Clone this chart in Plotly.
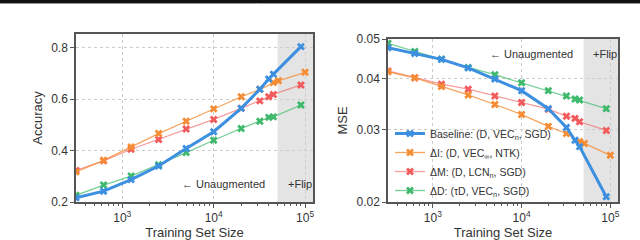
import plotly.graph_objects as go
import numpy as np

# ---- data ----
x_std = [312, 625, 1250, 2500, 5000, 10000, 20000, 32000, 40000, 45000, 90000]
x_ntk = [312, 625, 1250, 2500, 5000, 10000, 20000, 32000, 45000, 51000, 100000]

acc_baseline = [0.216, 0.242, 0.287, 0.340, 0.408, 0.473, 0.564, 0.638, 0.678, 0.697, 0.804]
acc_di = [0.317, 0.362, 0.414, 0.466, 0.514, 0.562, 0.609, 0.638, 0.664, 0.671, 0.704]
acc_dm = [0.323, 0.360, 0.405, 0.443, 0.484, 0.521, 0.564, 0.593, 0.609, 0.618, 0.655]
acc_dd = [0.226, 0.266, 0.301, 0.345, 0.392, 0.440, 0.486, 0.514, 0.529, 0.531, 0.577]

mse_baseline = [0.0476, 0.0461, 0.0446, 0.0425, 0.0399, 0.0374, 0.0338, 0.0304, 0.0283, 0.0273, 0.0206]
mse_di = [0.0416, 0.0402, 0.0383, 0.0365, 0.0346, 0.0327, 0.0306, 0.0294, 0.0281, 0.0278, 0.0260]
mse_dm = [0.0418, 0.0402, 0.0388, 0.0377, 0.0363, 0.0350, 0.0337, 0.0324, 0.0320, 0.0314, 0.0299]
mse_dd = [0.0488, 0.0466, 0.0446, 0.0426, 0.0409, 0.0391, 0.0374, 0.0363, 0.0357, 0.0355, 0.0338]

names = ["Baseline: (D, VEC<sub>n</sub>, SGD)",
         "ΔI: (D, VEC<sub>∞</sub>, NTK)",
         "ΔM: (D, LCN<sub>n</sub>, SGD)",
         "ΔD: (τD, VEC<sub>n</sub>, SGD)"]
flip_start = 50000
xtick_vals = [1000, 10000, 100000]
xtick_text = ["10<sup>3</sup>", "10<sup>4</sup>", "10<sup>5</sup>"]
xminor_vals = [m * 10 ** e for e in (2, 3, 4) for m in range(2, 10)]
acc_ticks = [0.2, 0.4, 0.6, 0.8]
mse_ticks = [0.02, 0.03, 0.04, 0.05]

# ---- styles ----
marker_colors = ["#3d8fe0", "#f58d35", "#f25a5c", "#3fba6c"]
line_colors = ["#3d8fe0", "rgba(245,141,53,0.8)", "rgba(242,90,92,0.6)", "rgba(63,186,108,0.7)"]
line_widths = [3, 1.3, 1.3, 1.3]
font_family = "Liberation Sans, Arial, sans-serif"
txt = "#333333"

W, H = 640, 240
L1 = (76, 313, 34, 202)
L2 = (388, 618, 39, 202)

def dom_x(a):
    return [a[0] / W, a[1] / W]

def dom_y(a):
    return [1 - a[3] / H, 1 - a[2] / H]

fig = go.Figure()
xs = [x_std, x_ntk, x_std, x_std]
accs = [acc_baseline, acc_di, acc_dm, acc_dd]
mses = [mse_baseline, mse_di, mse_dm, mse_dd]
order = [3, 2, 1, 0]  # draw baseline last
for i in order:
    fig.add_trace(go.Scatter(x=xs[i], y=accs[i], mode="lines+markers",
                             line=dict(color=line_colors[i], width=line_widths[i]),
                             marker=dict(symbol="x", size=7, color=marker_colors[i]),
                             showlegend=False, xaxis="x", yaxis="y"))
for i in order:
    fig.add_trace(go.Scatter(x=xs[i], y=mses[i], mode="lines+markers",
                             name=names[i], legendgroup=str(i), legendrank=i,
                             line=dict(color=line_colors[i], width=line_widths[i]),
                             marker=dict(symbol="x", size=7, color=marker_colors[i]),
                             showlegend=True, xaxis="x2", yaxis="y2"))

xr = [np.log10(312), np.log10(122000)]
common_x = dict(type="log", range=xr, tickvals=xtick_vals, ticktext=xtick_text,
                showgrid=True, gridcolor="#cccccc", griddash="dot", gridwidth=1,
                ticks="outside", ticklen=4, tickcolor="#555", tickwidth=1,
                minor=dict(ticks="outside", ticklen=2, tickcolor="#555", tickwidth=1,
                           tickvals=xminor_vals, showgrid=False),
                showline=True, linecolor="#555", linewidth=1.5, mirror=True,
                zeroline=False, automargin=False,
                tickfont=dict(size=12, color=txt, family=font_family),
                title=dict(text="Training Set Size", font=dict(size=13, color=txt, family=font_family), standoff=4))
common_y = dict(showgrid=True, gridcolor="#cccccc", griddash="dot", gridwidth=1,
                ticks="outside", ticklen=4, tickcolor="#555", tickwidth=1,
                showline=True, linecolor="#555", linewidth=1.5, mirror=True,
                zeroline=False, automargin=False,
                tickfont=dict(size=12, color=txt, family=font_family))

fig.update_layout(
    width=W, height=H, margin=dict(l=0, r=0, t=0, b=0),
    paper_bgcolor="white", plot_bgcolor="white",
    font=dict(family=font_family, color=txt),
    xaxis=dict(domain=dom_x(L1), anchor="y", **common_x),
    yaxis=dict(domain=dom_y(L1), anchor="x", range=[0.2, 0.853], tickvals=acc_ticks,
               ticktext=["0.2", "0.4", "0.6", "0.8"],
               title=dict(text="Accuracy", font=dict(size=13, color=txt, family=font_family), standoff=6),
               **common_y),
    xaxis2=dict(domain=dom_x(L2), anchor="y2", **common_x),
    yaxis2=dict(domain=dom_y(L2), anchor="x2", type="log",
                range=[np.log10(0.02), np.log10(0.05)], tickvals=mse_ticks,
                ticktext=["0.02", "0.03", "0.04", "0.05"],
                title=dict(text="MSE", font=dict(size=13, color=txt, family=font_family), standoff=6),
                **common_y),
    legend=dict(x=390 / W, y=1 - 119 / H, xanchor="left", yanchor="top",
                bgcolor="rgba(0,0,0,0)", borderwidth=0, itemwidth=30,
                tracegroupgap=0, traceorder="grouped",
                font=dict(size=10.5, color=txt, family=font_family)),
)

# shaded flip regions
for xa, ya in [("x", "y"), ("x2", "y2")]:
    fig.add_shape(type="rect", xref=xa, yref=ya + " domain", x0=flip_start, x1=10 ** xr[1],
                  y0=0, y1=1, fillcolor="#e4e4e4", line=dict(width=0), layer="below")

# annotations
ann_font = dict(size=11, color=txt, family=font_family)
fig.add_annotation(xref="paper", yref="paper", x=180 / W, y=1 - 184 / H, xanchor="left", yanchor="middle",
                   text="← Unaugmented", showarrow=False, font=ann_font)
fig.add_annotation(xref="paper", yref="paper", x=286 / W, y=1 - 184 / H, xanchor="left", yanchor="middle",
                   text="+Flip", showarrow=False, font=ann_font)
fig.add_annotation(xref="paper", yref="paper", x=488 / W, y=1 - 54 / H, xanchor="left", yanchor="middle",
                   text="← Unaugmented", showarrow=False, font=ann_font)
fig.add_annotation(xref="paper", yref="paper", x=591 / W, y=1 - 54 / H, xanchor="left", yanchor="middle",
                   text="+Flip", showarrow=False, font=ann_font)

# top border band of the image
fig.add_shape(type="rect", xref="paper", yref="paper", x0=0, x1=1, y0=1 - 3 / H, y1=1,
              fillcolor="#111111", line=dict(width=0))
fig.add_shape(type="line", xref="paper", yref="paper", x0=0, x1=1, y0=1 - 3.5 / H, y1=1 - 3.5 / H,
              line=dict(color="#999999", width=1))

fig.write_html("out.html", config={"displayModeBar": False},
               post_script="document.body.style.margin='0';document.body.style.overflow='hidden';")
